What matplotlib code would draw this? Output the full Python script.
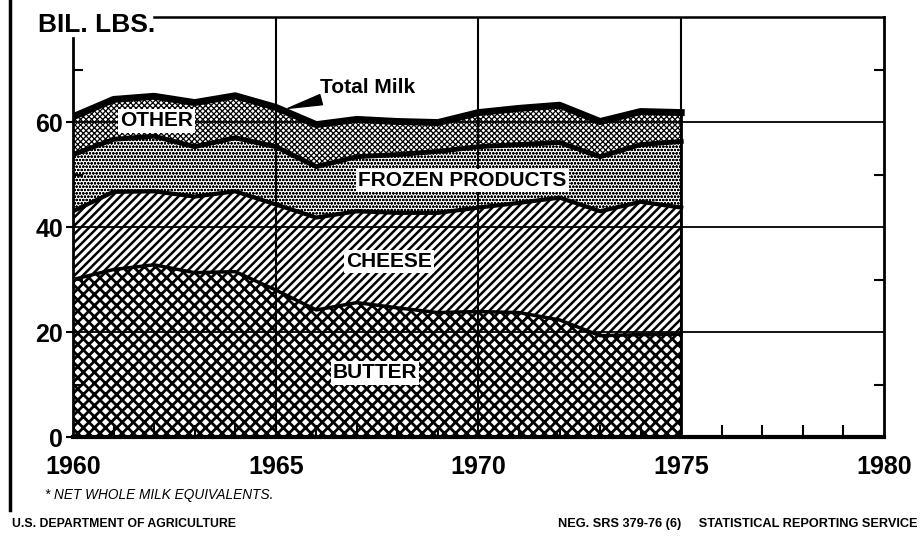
import numpy as np
import matplotlib.pyplot as plt

years = np.arange(1960, 1976)
# billion lbs, net whole milk equivalents
butter = [30.0, 31.9, 32.8, 31.3, 31.5, 28.0, 24.2, 25.6, 24.6, 23.7, 23.9, 23.7, 22.3, 19.3, 19.5, 19.6]
cheese = [13.0, 14.8, 14.0, 14.5, 15.3, 16.3, 17.6, 17.4, 18.1, 19.0, 19.8, 20.9, 23.3, 23.7, 25.3, 24.1]
frozen = [10.8, 10.0, 10.5, 9.5, 10.2, 11.0, 9.7, 10.4, 11.1, 11.7, 11.6, 11.1, 10.5, 10.4, 10.9, 12.6]
other = [7.2, 7.6, 7.6, 8.4, 8.0, 7.5, 8.0, 7.1, 6.3, 5.5, 6.5, 6.9, 7.1, 6.7, 6.3, 5.5]

ytick_labels = ["0", "20", "40", "60"]
xtick_labels = ["1960", "1965", "1970", "1975", "1980"]

bold = dict(family=["Liberation Sans", "DejaVu Sans"], weight="bold")

fig = plt.figure(figsize=(9.23, 5.37), dpi=100)
ax = fig.add_axes([0.0791, 0.1862, 0.8786, 0.7821])
ax.set_xlim(1960, 1980)
ax.set_ylim(0, 80)

levels = np.cumsum([butter, cheese, frozen, other], axis=0)
bottoms = [np.zeros(len(years)), levels[0], levels[1], levels[2]]
hatches = ["xxx", "////", "ooooo", "xxxxxx"]
hlw = [2.0, 1.8, 0.7, 0.9]
for lev, bot, h, lw in zip(levels, bottoms, hatches, hlw):
    with plt.rc_context({"hatch.linewidth": lw, "hatch.color": "black"}):
        ax.fill_between(years, bot, lev, facecolor="white", edgecolor="black",
                        hatch=h, linewidth=0, zorder=1)

# boundary lines
for lev, lw in zip(levels, [2.5, 3.0, 3.5, 5.0]):
    ax.plot(years, lev, color="black", lw=lw, solid_joinstyle="round", zorder=4)
ax.plot([1975, 1975], [0, levels[3][-1]], color="black", lw=2, zorder=4)

# grid
for y in [20, 40, 60]:
    ax.axhline(y, color="black", lw=1.3, zorder=3)
for x in [1965, 1970, 1975]:
    ax.axvline(x, color="black", lw=1.5, zorder=3)

# spines and ticks
ax.spines["top"].set_visible(False)
ax.spines["left"].set_bounds(0, 76)
ax.spines["left"].set_linewidth(2)
ax.spines["right"].set_linewidth(2)
ax.spines["bottom"].set_linewidth(3)
ax.plot([1962, 1980], [80, 80], color="black", lw=1.8, clip_on=False, zorder=5)

ax.set_yticks([0, 20, 40, 60], ytick_labels)
ax.set_yticks([10, 30, 50, 70], minor=True)
ax.set_xticks([1960, 1965, 1970, 1975, 1980], xtick_labels)
ax.set_xticks(np.arange(1961, 1980), minor=True)
ax.tick_params(axis="y", which="major", length=5, width=1.5, pad=2, labelsize=18)
ax.tick_params(axis="y", which="minor", direction="in", length=7, width=1.5,
               left=True, right=True)
ax.tick_params(axis="x", which="major", length=0, pad=13, labelsize=18)
ax.tick_params(axis="x", which="minor", direction="in", length=9, width=1.5)
for lab in ax.get_xticklabels() + ax.get_yticklabels():
    lab.set_fontfamily(bold["family"])
    lab.set_fontweight("bold")

# layer labels
box = dict(boxstyle="square,pad=0.1", facecolor="white", edgecolor="none")
ax.text(1962.07, 60.2, "OTHER", ha="center", va="center", fontsize=15, bbox=box, zorder=6, **bold)
ax.text(1969.6, 48.8, "FROZEN PRODUCTS", ha="center", va="center", fontsize=15, bbox=box, zorder=6, **bold)
ax.text(1967.8, 33.4, "CHEESE", ha="center", va="center", fontsize=15, bbox=box, zorder=6, **bold)
ax.text(1967.45, 12.2, "BUTTER", ha="center", va="center", fontsize=15, bbox=box, zorder=6, **bold)

ax.annotate("Total Milk", xy=(1965.3, 62.6), xytext=(1966.1, 66.6),
            ha="left", va="center", fontsize=15, zorder=6,
            arrowprops=dict(arrowstyle="wedge,tail_width=0.5", color="black",
                            shrinkA=0, shrinkB=0), **bold)

fig.text(38 / 923, 1 - 25 / 537, "BIL. LBS.", ha="left", va="center", fontsize=19, **bold)
fig.text(45 / 923, 1 - 495 / 537, "* NET WHOLE MILK EQUIVALENTS.", ha="left", va="center",
         fontsize=9.8, style="italic", family=bold["family"])
fig.text(12 / 923, 1 - 524 / 537, "U.S. DEPARTMENT OF AGRICULTURE", ha="left", va="center",
         fontsize=8.8, **bold)
fig.text(918 / 923, 1 - 524 / 537, "NEG. SRS 379-76 (6)     STATISTICAL REPORTING SERVICE",
         ha="right", va="center", fontsize=9.2, **bold)

# page border on the left
fig.add_artist(plt.Line2D([10 / 923, 10 / 923], [1 - 510 / 537, 1.0], color="black", lw=2.5))

fig.savefig("out.png", dpi=100)
